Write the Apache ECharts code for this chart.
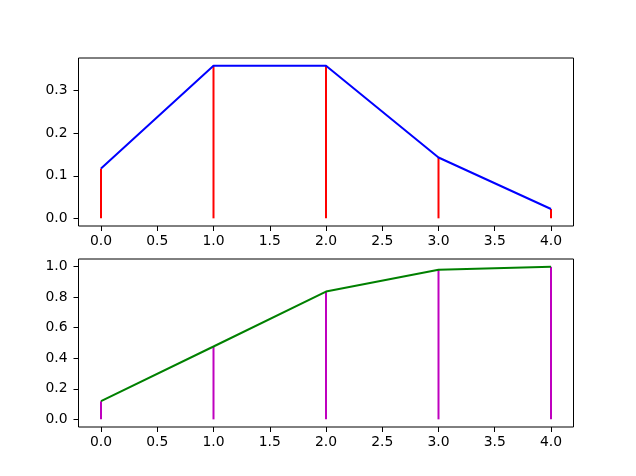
<!DOCTYPE html>
<html>
<head>
<meta charset="utf-8">
<script src="https://cdn.jsdelivr.net/npm/echarts@6/dist/echarts.min.js"></script>
<style>html,body{margin:0;padding:0;background:#fff}#c{width:636px;height:476px}</style>
</head>
<body>
<div id="c"></div>
<script>
var xs = [0, 1, 2, 3, 4];
var pmf = [0.117, 0.359, 0.359, 0.143, 0.022];
var cdf = [0.119, 0.477, 0.837, 0.980, 1.0];
var xTicks = [0, 0.5, 1, 1.5, 2, 2.5, 3, 3.5, 4];
var yTicksTop = [0, 0.1, 0.2, 0.3];
var yTicksBottom = [0, 0.2, 0.4, 0.6, 0.8, 1.0];

function pairs(a) { return xs.map(function (x, i) { return [x, a[i]]; }); }
var font = { fontFamily: 'DejaVu Sans', fontSize: 13.9, color: '#000' };
function xAxis(gi) {
  return {
    type: 'value', gridIndex: gi, min: -0.2, max: 4.2, position: 'bottom',
    splitLine: { show: false },
    axisLine: { show: false, onZero: false },
    axisTick: { show: true, inside: false, length: 5, lineStyle: { color: '#000', width: 1 }, customValues: xTicks },
    axisLabel: Object.assign({ margin: 8, customValues: xTicks, formatter: function (v) { return v.toFixed(1); } }, font)
  };
}
function yAxis(gi, mn, mx, ticks) {
  return {
    type: 'value', gridIndex: gi, min: mn, max: mx, position: 'left',
    splitLine: { show: false },
    axisLine: { show: false, onZero: false },
    axisTick: { show: true, inside: false, length: 5, lineStyle: { color: '#000', width: 1 }, customValues: ticks },
    axisLabel: Object.assign({ margin: 11, customValues: ticks, formatter: function (v) { return v.toFixed(1); } }, font)
  };
}
var chart = echarts.init(document.getElementById('c'), null, { renderer: 'canvas' });
chart.setOption({
  animation: false,
  grid: [
    { left: 78.5, width: 495, top: 58, height: 168, show: true, borderColor: '#000', borderWidth: 1, backgroundColor: 'transparent' },
    { left: 78.5, width: 495, top: 259, height: 168, show: true, borderColor: '#000', borderWidth: 1, backgroundColor: 'transparent' }
  ],
  xAxis: [xAxis(0), xAxis(1)],
  yAxis: [
    yAxis(0, -0.018, 0.377, yTicksTop),
    yAxis(1, -0.05, 1.05, yTicksBottom)
  ],
  series: [
    { type: 'bar', xAxisIndex: 0, yAxisIndex: 0, data: pairs(pmf), barWidth: 2, itemStyle: { color: '#ff0000' }, silent: true },
    { type: 'line', xAxisIndex: 0, yAxisIndex: 0, data: pairs(pmf), showSymbol: false, symbol: 'none', lineStyle: { color: '#0000ff', width: 2 } },
    { type: 'bar', xAxisIndex: 1, yAxisIndex: 1, data: pairs(cdf), barWidth: 2, itemStyle: { color: '#bf00bf' }, silent: true },
    { type: 'line', xAxisIndex: 1, yAxisIndex: 1, data: pairs(cdf), showSymbol: false, symbol: 'none', lineStyle: { color: '#008000', width: 2 } }
  ]
});
</script>
</body>
</html>
